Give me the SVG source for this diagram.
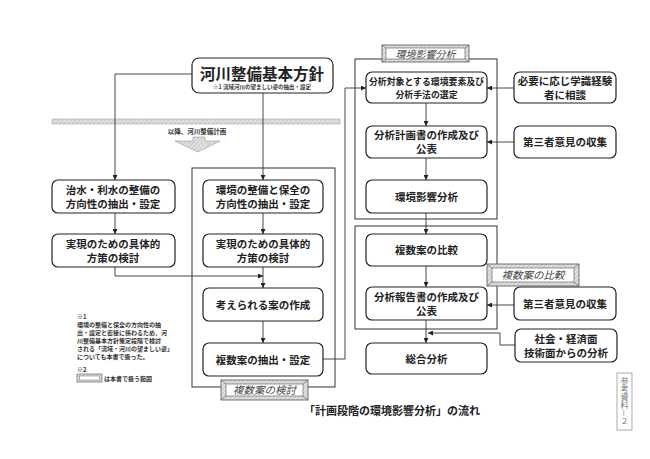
<svg xmlns="http://www.w3.org/2000/svg" width="650" height="459" viewBox="0 0 650 459">
<defs>
<pattern id="hatch" width="3" height="3" patternUnits="userSpaceOnUse" patternTransform="rotate(45)">
<rect width="3" height="3" fill="#e2e2e2"/>
<line x1="0" y1="0" x2="0" y2="3" stroke="#aaa" stroke-width="1"/>
</pattern>
<marker id="arr" viewBox="0 0 8 8" refX="8" refY="4" markerWidth="5" markerHeight="5" orient="auto" markerUnits="userSpaceOnUse">
<path d="M0,0 L8,4 L0,8 z" fill="#222"/>
</marker>
</defs>
<style>
.box{fill:#fff;stroke:#222;stroke-width:1.2}
.grp{fill:none;stroke:#333;stroke-width:1}
.t{font-family:"Noto Sans CJK JP","Noto Sans CJK SC",sans-serif;font-size:10.5px;font-weight:bold;fill:#222;text-anchor:middle}
.c{fill:none;stroke:#333;stroke-width:0.9}
.ca{fill:none;stroke:#333;stroke-width:0.9;marker-end:url(#arr)}
.lbl{font-family:"Noto Sans CJK JP",sans-serif;font-size:10.5px;font-style:italic;fill:#444;text-anchor:middle}
.note{font-family:"Noto Sans CJK JP",sans-serif;font-size:6px;font-weight:bold;fill:#333}
</style>
<rect width="650" height="459" fill="#fff"/>

<!-- band -->
<g id="band">
<rect x="52" y="119" width="288" height="5" fill="url(#hatch)" stroke="#999" stroke-width="0.5"/>
<text x="197" y="134" font-family="Noto Sans CJK JP,sans-serif" font-size="6.5" font-weight="bold" fill="#333" text-anchor="middle">以降、河川整備計画</text>
<path d="M193,137 L205,137 L205,141 L220,141 L198,152 L175,141 L193,141 z" fill="url(#hatch)" stroke="#999" stroke-width="0.6"/>
</g>

<!-- groups -->
<g id="group-kento">
<rect class="grp" x="192" y="168" width="143" height="219"/>
</g>
<g id="group-eikyo">
<rect class="grp" x="355" y="59" width="142" height="160"/>
</g>
<g id="group-hikaku">
<rect class="grp" x="355" y="226" width="142" height="103"/>
</g>

<!-- connectors -->
<g id="connectors">
<polyline class="ca" points="192,74 115,74 115,180"/>
<line class="ca" x1="263" y1="93" x2="263" y2="180"/>
<line class="ca" x1="115" y1="213" x2="115" y2="234"/>
<line class="ca" x1="263" y1="213" x2="263" y2="234"/>
<polyline class="ca" points="115,267 115,276 263,276"/>
<line class="ca" x1="263" y1="267" x2="263" y2="288"/>
<line class="ca" x1="263" y1="321" x2="263" y2="343"/>
<polyline class="ca" points="323,359 345,359 345,88 366,88"/>
<line class="ca" x1="514" y1="88" x2="487" y2="88"/>
<line class="ca" x1="426" y1="103" x2="426" y2="126"/>
<line class="ca" x1="514" y1="142" x2="487" y2="142"/>
<line class="ca" x1="426" y1="158" x2="426" y2="180"/>
<line class="ca" x1="426" y1="213" x2="426" y2="234"/>
<line class="ca" x1="426" y1="266" x2="426" y2="287"/>
<line class="ca" x1="514" y1="305" x2="487" y2="305"/>
<line class="ca" x1="426" y1="320" x2="426" y2="343"/>
<polyline class="ca" points="515,345 500,345 500,333 428,333"/>
</g>

<!-- nodes -->
<g id="n-houshin">
<rect class="box" x="192" y="58" width="141" height="35" rx="7"/>
<text class="t" x="262" y="80" style="font-size:15.5px">河川整備基本方針</text>
<text x="262" y="89" font-family="Noto Sans CJK JP,sans-serif" font-size="5.5" font-weight="bold" fill="#333" text-anchor="middle">※1 流域河川の望ましい姿の抽出・設定</text>
</g>
<g id="n-chisui">
<rect class="box" x="52" y="180" width="123" height="33" rx="6"/>
<text class="t" x="113" y="194">治水・利水の整備の</text>
<text class="t" x="113" y="208">方向性の抽出・設定</text>
</g>
<g id="n-jitsugen1">
<rect class="box" x="52" y="234" width="123" height="33" rx="6"/>
<text class="t" x="113" y="248">実現のための具体的</text>
<text class="t" x="113" y="262">方策の検討</text>
</g>
<g id="n-kankyo">
<rect class="box" x="203" y="180" width="120" height="33" rx="6"/>
<text class="t" x="263" y="194">環境の整備と保全の</text>
<text class="t" x="263" y="208">方向性の抽出・設定</text>
</g>
<g id="n-jitsugen2">
<rect class="box" x="203" y="234" width="120" height="33" rx="6"/>
<text class="t" x="263" y="248">実現のための具体的</text>
<text class="t" x="263" y="262">方策の検討</text>
</g>
<g id="n-kangaerareru">
<rect class="box" x="203" y="288" width="120" height="33" rx="6"/>
<text class="t" x="263" y="309">考えられる案の作成</text>
</g>
<g id="n-chushutsu">
<rect class="box" x="203" y="343" width="120" height="33" rx="6"/>
<text class="t" x="263" y="364">複数案の抽出・設定</text>
</g>
<g id="n-bunseki-taisho">
<rect class="box" x="366" y="72" width="121" height="31" rx="6"/>
<text class="t" x="426.5" y="85" style="font-size:8.9px">分析対象とする環境要素及び</text>
<text class="t" x="426.5" y="97.5" style="font-size:8.9px">分析手法の選定</text>
</g>
<g id="n-hitsuyou">
<rect class="box" x="514" y="72" width="102" height="31" rx="6"/>
<text class="t" x="565" y="85">必要に応じ学識経験</text>
<text class="t" x="565" y="99">者に相談</text>
</g>
<g id="n-keikaku">
<rect class="box" x="366" y="126" width="121" height="32" rx="6"/>
<text class="t" x="426.5" y="139">分析計画書の作成及び</text>
<text class="t" x="426.5" y="153">公表</text>
</g>
<g id="n-daisansha1">
<rect class="box" x="514" y="126" width="102" height="32" rx="6"/>
<text class="t" x="565" y="146">第三者意見の収集</text>
</g>
<g id="n-eikyo">
<rect class="box" x="366" y="180" width="121" height="33" rx="6"/>
<text class="t" x="426.5" y="201">環境影響分析</text>
</g>
<g id="n-hikaku">
<rect class="box" x="366" y="234" width="121" height="32" rx="6"/>
<text class="t" x="426.5" y="254">複数案の比較</text>
</g>
<g id="n-houkoku">
<rect class="box" x="366" y="287" width="121" height="33" rx="6"/>
<text class="t" x="426.5" y="301">分析報告書の作成及び</text>
<text class="t" x="426.5" y="315">公表</text>
</g>
<g id="n-daisansha2">
<rect class="box" x="514" y="287" width="102" height="33" rx="6"/>
<text class="t" x="565" y="308">第三者意見の収集</text>
</g>
<g id="n-shakai">
<rect class="box" x="515" y="329" width="102" height="33" rx="6"/>
<text class="t" x="566" y="343">社会・経済面</text>
<text class="t" x="566" y="357">技術面からの分析</text>
</g>
<g id="n-sougou">
<rect class="box" x="366" y="343" width="121" height="31" rx="6"/>
<text class="t" x="426.5" y="363">総合分析</text>
</g>

<!-- beveled labels -->
<g id="lbl-eikyo">
<rect x="382" y="45" width="87" height="17" fill="url(#hatch)" stroke="#555" stroke-width="0.8"/>
<rect x="386" y="48" width="79" height="11" fill="#fff" stroke="#555" stroke-width="0.6"/>
<path d="M382,45 L386,48 M469,45 L465,48 M382,62 L386,59 M469,62 L465,59" stroke="#555" stroke-width="0.6"/>
<text class="lbl" x="425.5" y="57.5" style="font-size:10px">環境影響分析</text>
</g>
<g id="lbl-hikaku">
<rect x="487" y="264" width="92" height="22" fill="url(#hatch)" stroke="#555" stroke-width="0.8"/>
<rect x="492" y="268" width="82" height="14" fill="#fff" stroke="#555" stroke-width="0.6"/>
<path d="M487,264 L492,268 M579,264 L574,268 M487,286 L492,282 M579,286 L574,282" stroke="#555" stroke-width="0.6"/>
<text class="lbl" x="533" y="279">複数案の比較</text>
</g>
<g id="lbl-kento">
<rect x="221" y="380" width="87" height="20" fill="url(#hatch)" stroke="#555" stroke-width="0.8"/>
<rect x="226" y="384" width="77" height="12" fill="#fff" stroke="#555" stroke-width="0.6"/>
<path d="M221,380 L226,384 M308,380 L303,384 M221,400 L226,396 M308,400 L303,396" stroke="#555" stroke-width="0.6"/>
<text class="lbl" x="264.5" y="394">複数案の検討</text>
</g>

<!-- notes -->
<g id="notes">
<text class="note" x="77" y="319">※1</text>
<text class="note" x="77" y="327">環境の整備と保全の方向性の抽</text>
<text class="note" x="77" y="335">出・設定と密接に係わるため、河</text>
<text class="note" x="77" y="343">川整備基本方針策定段階で検討</text>
<text class="note" x="77" y="351">される「流域・河川の望ましい姿」</text>
<text class="note" x="77" y="359">についても本書で扱った。</text>
<text class="note" x="77" y="372">※2</text>
<rect x="77" y="374" width="25" height="8" fill="url(#hatch)" stroke="#555" stroke-width="0.6"/>
<rect x="79.5" y="376" width="20" height="4" fill="#fff" stroke="#555" stroke-width="0.4"/>
<text class="note" x="104" y="380.5">は本書で扱う範囲</text>
</g>

<text x="392" y="415" font-family="Noto Sans CJK JP,sans-serif" font-size="11" font-weight="bold" fill="#222" text-anchor="middle">「計画段階の環境影響分析」の流れ</text>

<g id="page-label">
<rect x="617" y="373" width="15" height="57" fill="none" stroke="#888" stroke-width="0.7"/>
<text x="624.5" y="377" font-family="Noto Sans CJK JP,sans-serif" font-size="8" fill="#777" style="writing-mode:vertical-rl" text-anchor="start">参考資料－２</text>
</g>
</svg>
